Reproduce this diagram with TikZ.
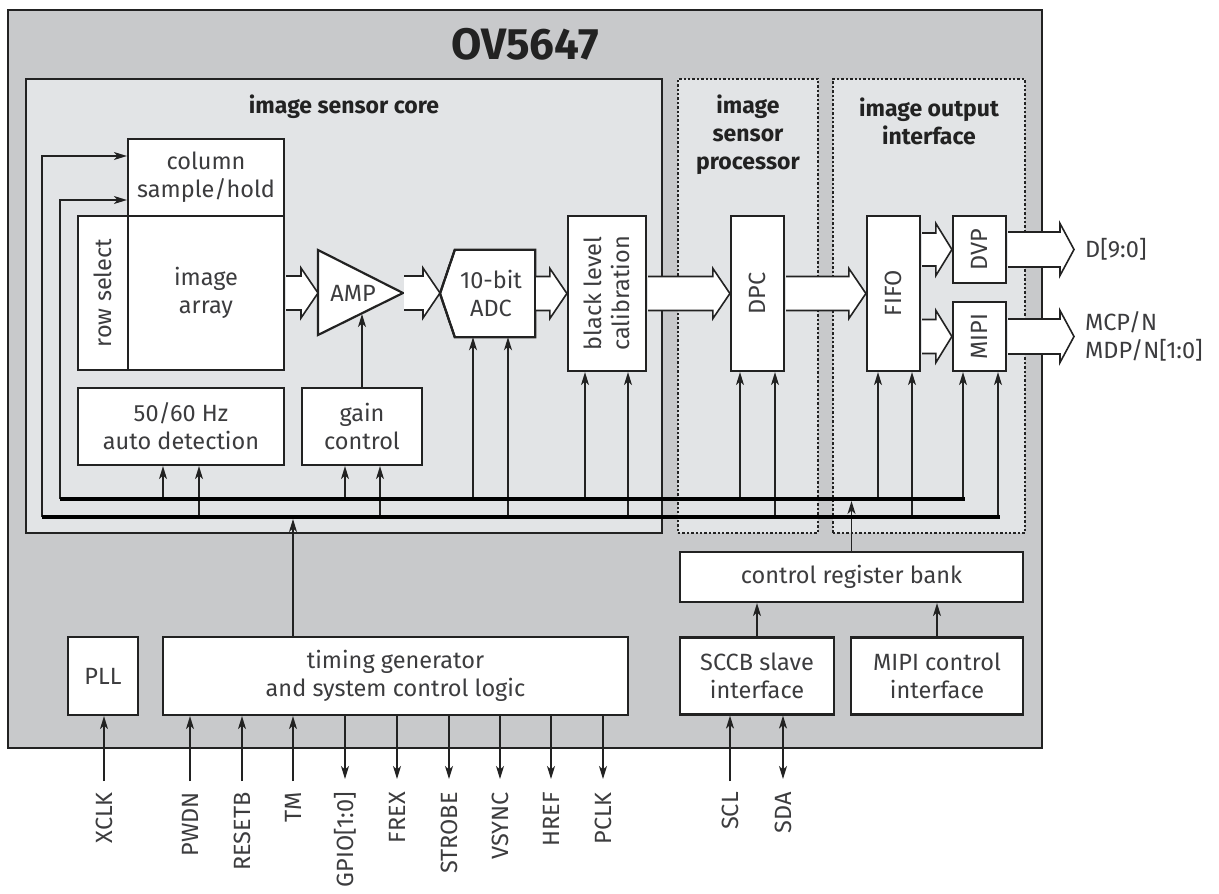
\documentclass[tikz,border=0pt]{standalone}
\usepackage{fontspec}
\setmainfont{Fira Sans}
\usetikzlibrary{arrows.meta,calc,positioning}

\definecolor{chipgray}{RGB}{200,201,203}
\definecolor{areagray}{RGB}{226,228,230}
\definecolor{inkc}{RGB}{34,34,34}
\definecolor{txtc}{RGB}{60,60,62}

\newcommand\bodyfont{\fontsize{23.5}{28}\selectfont}
\newcommand\headfont{\bfseries\fontsize{23}{28}\selectfont}

% hollow bus arrow: from, to, shaft half width, head half width, head length
\newcommand\fatarrow[5]{%
  \path[fat] let \p1=#1, \p2=#2 in
    (\x1+1pt,\y1+#3pt) -- (\x2-#5pt,\y1+#3pt) -- (\x2-#5pt,\y1+#4pt) -- (\x2,\y1)
    -- (\x2-#5pt,\y1-#4pt) -- (\x2-#5pt,\y1-#3pt) -- (\x1+1pt,\y1-#3pt);}

\tikzset{
  chip/.style={draw=inkc, fill=chipgray, line width=2.4pt, inner sep=0pt},
  area/.style={draw=inkc, fill=areagray, line width=2.4pt, inner sep=0pt},
  dotarea/.style={draw=inkc, fill=areagray, line width=2.4pt, dotted, inner sep=0pt},
  blk/.style={draw=inkc, fill=white, line width=2.2pt, inner sep=0pt, align=center,
    text=txtc, font=\bodyfont},
  vlab/.style={rotate=90, align=center, text=txtc, font=\bodyfont, inner sep=0pt},
  hd/.style={font=\headfont, text=inkc, align=center, inner sep=0pt},
  tip/.style={Stealth[length=13pt,width=8pt,inset=3.5pt]},
  sig/.style={draw=inkc, line width=1.3pt, -{Stealth[length=13pt,width=8pt,inset=3.5pt]}},
  sigboth/.style={draw=inkc, line width=1.3pt,
    {Stealth[length=13pt,width=8pt,inset=3.5pt]}-{Stealth[length=13pt,width=8pt,inset=3.5pt]}},
  bus/.style={draw=black, line width=4.2pt},
  fat/.style={draw=inkc, fill=white, line width=1.6pt, line join=miter},
  pin/.style={rotate=90, anchor=east, inner sep=0pt, text=txtc, font=\bodyfont},
}

\begin{document}
\begin{tikzpicture}[x=1pt,y=-1pt]
  \path[use as bounding box, fill=white] (0,0) rectangle (1219,894);

  % chip and its regions
  \node[chip, minimum width=1034pt, minimum height=738pt] (chip) at (525,379) {};
  \node[hd, font=\bfseries\fontsize{44}{50}\selectfont] (ov) at (525,44) {OV5647};
  \node[area, minimum width=636pt, minimum height=454pt] (core) at (344,306) {};
  \node[dotarea, minimum width=140pt, minimum height=454pt] (isp) at (748,306) {};
  \node[dotarea, minimum width=192pt, minimum height=454pt] (oif) at (929,306) {};
  \node[hd] (coretitle) at (344,107) {image sensor core};
  \node[hd] (isptitle) at (748,135) {image\\sensor\\processor};
  \node[hd] (oiftitle) at (929,121) {image output\\interface};

  % sensor core blocks
  \node[blk, minimum width=156pt, minimum height=77pt] (colsh) at (206,177.5) {column\\sample/hold};
  \node[blk, minimum width=156pt, minimum height=154pt] (imgarr) at (206,293) {image\\array};
  \node[blk, minimum width=50pt, minimum height=154pt, label={[vlab]center:row select}] (rowsel) at (103,293) {};
  \node[blk, minimum width=206pt, minimum height=77pt] (hz) at (181,426.5) {50/60 Hz\\auto detection};
  \node[blk, minimum width=120pt, minimum height=77pt] (gain) at (362,426.5) {gain\\control};

  \coordinate (ampL) at (318,293);
  \coordinate (ampR) at (403,293);
  \coordinate (ampB) at (362,314);
  \draw[blk] ($(ampL)+(0,-43)$) -- (ampR) -- ($(ampL)+(0,42)$) -- cycle;
  \node[text=txtc, font=\bodyfont, inner sep=0pt] (amp) at (353,293) {AMP};

  \node[minimum width=80pt, minimum height=87pt, inner sep=0pt] (adc) at (495,293.5) {};
  \coordinate (adcL) at (440,293.5);
  \draw[blk] (adc.north west) -- (adc.north east) -- (adc.south east) -- (adc.south west) -- (adcL) -- cycle;
  \node[text=txtc, font=\bodyfont, align=center, inner sep=0pt] (adctxt) at (491,293.5) {10-bit\\ADC};

  \node[blk, minimum width=78pt, minimum height=155pt, label={[vlab]center:black level\\calibration}] (blc) at (607,293.5) {};

  % processor and output blocks
  \node[blk, minimum width=53pt, minimum height=155pt, label={[vlab]center:DPC}] (dpc) at (757.5,293.5) {};
  \node[blk, minimum width=53pt, minimum height=155pt, label={[vlab]center:FIFO}] (fifo) at (893.5,293.5) {};
  \node[blk, minimum width=53pt, minimum height=67pt, label={[vlab]center:DVP}] (dvp) at (979.5,249.5) {};
  \node[blk, minimum width=53pt, minimum height=69pt, label={[vlab]center:MIPI}] (mipi) at (979.5,336.5) {};

  % control blocks
  \node[blk, minimum width=343pt, minimum height=50pt] (crb) at (851.5,577) {control register bank};
  \node[blk, minimum width=154pt, minimum height=77pt] (sccb) at (757,676) {SCCB slave\\interface};
  \node[blk, minimum width=172pt, minimum height=77pt] (mipic) at (937,676) {MIPI control\\interface};
  \node[blk, minimum width=70pt, minimum height=78pt] (pll) at (103,676) {PLL};
  \node[blk, minimum width=465pt, minimum height=78pt] (tg) at (395.5,676) {timing generator\\and system control logic};

  % data path
  \fatarrow{(imgarr.east)}{(ampL)}{17}{25}{17}
  \fatarrow{(ampR)}{(adcL)}{17}{25}{17}
  \draw[inkc, line width=2.2pt] (adc.north west) -- (adcL) -- (adc.south west);
  \fatarrow{(adc.east)}{(blc.west)}{17}{25}{17}
  \fatarrow{(blc.east)}{(dpc.west)}{17}{25}{17}
  \fatarrow{(dpc.east)}{(fifo.west)}{17}{25}{17}
  \fatarrow{(fifo.east |- dvp.west)}{(dvp.west)}{16.5}{26}{16}
  \fatarrow{(fifo.east |- mipi.west)}{(mipi.west)}{17}{26}{16}
  \coordinate (dout) at (1074,249.5);
  \coordinate (mout) at (1074,336.5);
  \fatarrow{(dvp.east)}{(dout)}{17.5}{26}{14}
  \fatarrow{(mipi.east)}{(mout)}{17.5}{26}{14}
  \node[right=11pt of dout, inner sep=0pt, text=txtc, font=\bodyfont] (dlab) {D[9:0]};
  \node[right=11pt of mout, inner sep=0pt, text=txtc, font=\bodyfont, align=left] (mlab) {MCP/N\\MDP/N[1:0]};

  % control buses
  \coordinate (ubusL) at (60,499);
  \coordinate (ubusR) at (965,499);
  \coordinate (lbusL) at (42,517);
  \coordinate (lbusR) at (1000,517);
  \draw[sig] (lbusL) |- ($(colsh.west)+(0,-21.5)$);
  \draw[sig] (ubusL) |- ($(colsh.west)+(0,22.5)$);
  \foreach \xx/\tgt/\by in {163/hz/499, 199/hz/517, 345/gain/499, 380/gain/517,
      473/adc/499, 508/adc/517, 585/blc/499, 628/blc/517, 740/dpc/499, 775/dpc/517,
      878/fifo/499, 912/fifo/517, 963/mipi/499, 998/mipi/517} {
    \coordinate (ft) at (\xx,\by);
    \draw[sig] (ft) -- (ft |- \tgt.south);
  }
  \draw[sig] (gain.north) -- (ampB);
  \draw[sig] (tg.north -| 293,0) -- (293,519);
  \draw[sig] (crb.north) -- (crb.north |- 0,501);
  \draw[bus] (ubusL) -- (ubusR);
  \draw[bus] (lbusL) -- (lbusR);
  \draw[sig] (sccb.north) -- (sccb.north |- crb.south);
  \draw[sig] (mipic.north) -- (mipic.north |- crb.south);

  % pins
  \node[pin] (p-xclk) at (104,792) {XCLK};
  \draw[sig] (104,781) -- (pll.south -| 104,0);
  \foreach \nm/\lab/\xx in {pwdn/PWDN/190, resetb/RESETB/242, tm/TM/293} {
    \node[pin] (p-\nm) at (\xx,792) {\lab};
    \coordinate (e-\nm) at (\xx,781);
    \draw[sig] (e-\nm) -- (e-\nm |- tg.south);
  }
  \foreach \nm/\lab/\xx in {gpio/{GPIO[1:0]}/345, frex/FREX/397, strobe/STROBE/449,
      vsync/VSYNC/500, href/HREF/551, pclk/PCLK/603} {
    \node[pin] (p-\nm) at (\xx,792) {\lab};
    \coordinate (e-\nm) at (\xx,779);
    \draw[sig] (e-\nm |- tg.south) -- (e-\nm);
  }
  \node[pin] (p-scl) at (730,792) {SCL};
  \coordinate (e-scl) at (730,781);
  \draw[sig] (e-scl) -- (e-scl |- sccb.south);
  \node[pin] (p-sda) at (783,792) {SDA};
  \coordinate (e-sda) at (783,779);
  \draw[sigboth] (e-sda) -- (e-sda |- sccb.south);
\end{tikzpicture}
\end{document}
